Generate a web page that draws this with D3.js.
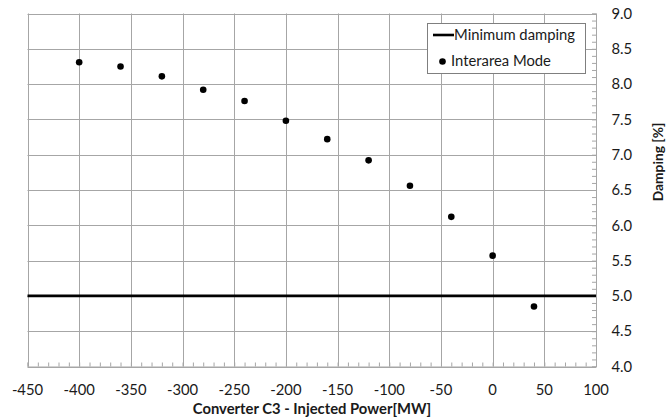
<!DOCTYPE html>
<html>
<head>
<meta charset="utf-8">
<script src="https://cdn.jsdelivr.net/npm/d3@7"></script>
<style>
  html, body { margin: 0; padding: 0; background: #fff; }
  svg { display: block; font-family: Lato, "Open Sans", sans-serif; }
</style>
</head>
<body>
<svg id="chart" width="670" height="419"></svg>
<script>
// Injected power of converter C3 (MW) and resulting damping of the interarea mode (%)
const injectedPower = [-400, -360, -320, -280, -240, -200, -160, -120, -80, -40, 0, 40];
const interareaDamping = [8.31, 8.25, 8.11, 7.92, 7.76, 7.48, 7.22, 6.92, 6.56, 6.12, 5.57, 4.85];
const minimumDamping = 5.0;

const xTickValues = [-450, -400, -350, -300, -250, -200, -150, -100, -50, 0, 50, 100];
const yTickValues = [4.0, 4.5, 5.0, 5.5, 6.0, 6.5, 7.0, 7.5, 8.0, 8.5, 9.0];

const svg = d3.select("#chart");
const plot = { left: 27.5, right: 596, top: 13.5, bottom: 366.5 };
const fontSize = 14.8;
const textColor = "#1a1a1a";

const x = d3.scaleLinear().domain([-450, 100]).range([plot.left, plot.right]);
const y = d3.scaleLinear().domain([4, 9]).range([plot.bottom, plot.top]);

const gridColor = "#a6a6a6";

// Grid lines
svg.append("g").selectAll("line").data(xTickValues).join("line")
  .attr("x1", d => Math.round(x(d)) + 0.5).attr("x2", d => Math.round(x(d)) + 0.5)
  .attr("y1", plot.top).attr("y2", plot.bottom)
  .attr("stroke", gridColor).attr("stroke-width", 1);

svg.append("g").selectAll("line").data(yTickValues).join("line")
  .attr("x1", plot.left).attr("x2", plot.right)
  .attr("y1", d => Math.round(y(d)) + 0.5).attr("y2", d => Math.round(y(d)) + 0.5)
  .attr("stroke", gridColor).attr("stroke-width", 1);

// Bottom axis: minor ticks every 10 MW pointing inward, labels at the majors
const xAxis = d3.axisBottom(x).tickValues(d3.range(-450, 101, 10)).tickSize(-4).tickFormat("");
const gx = svg.append("g").attr("transform", `translate(0,${plot.bottom})`).call(xAxis);
gx.select(".domain").attr("stroke", gridColor);
gx.selectAll(".tick line").attr("stroke", gridColor);

svg.append("g").selectAll("text").data(xTickValues).join("text")
  .attr("x", d => x(d)).attr("y", plot.bottom + 28.5)
  .attr("text-anchor", "middle").attr("font-size", fontSize).attr("fill", textColor)
  .text(d => d);

// Right axis: minor ticks every 0.1 pointing inward
const yAxis = d3.axisRight(y).tickValues(d3.range(40, 91, 1).map(v => v / 10)).tickSize(-4).tickFormat("");
const gy = svg.append("g").attr("transform", `translate(${plot.right},0)`).call(yAxis);
gy.select(".domain").attr("stroke", gridColor);
gy.selectAll(".tick line").attr("stroke", gridColor);

svg.append("g").selectAll("text").data(yTickValues).join("text")
  .attr("x", plot.right + 15.5).attr("y", d => y(d) + 5.2)
  .attr("text-anchor", "start").attr("font-size", fontSize).attr("fill", textColor)
  .text(d => d3.format(".1f")(d));

// Axis titles
svg.append("text")
  .attr("x", 312).attr("y", 414)
  .attr("text-anchor", "middle").attr("font-size", fontSize).attr("font-weight", "bold").attr("fill", textColor)
  .text("Converter C3 - Injected Power[MW]");

svg.append("text")
  .attr("transform", "translate(663,162) rotate(-90)")
  .attr("text-anchor", "middle").attr("font-size", 13.8).attr("font-weight", "bold").attr("fill", textColor)
  .text("Damping [%]");

// Minimum damping threshold
svg.append("line")
  .attr("x1", plot.left).attr("x2", plot.right)
  .attr("y1", y(minimumDamping)).attr("y2", y(minimumDamping))
  .attr("stroke", "#000").attr("stroke-width", 2.6);

// Interarea mode damping points
svg.append("g").selectAll("circle").data(injectedPower.map((p, i) => [p, interareaDamping[i]])).join("circle")
  .attr("cx", d => x(d[0])).attr("cy", d => y(d[1])).attr("r", 3.3).attr("fill", "#000");

// Legend
const legend = svg.append("g");
legend.append("rect")
  .attr("x", 427.5).attr("y", 23.5).attr("width", 158).attr("height", 50)
  .attr("fill", "#fff").attr("stroke", "#7f7f7f").attr("stroke-width", 1);
legend.append("line")
  .attr("x1", 433).attr("x2", 454).attr("y1", 35).attr("y2", 35)
  .attr("stroke", "#000").attr("stroke-width", 2.6);
legend.append("text")
  .attr("x", 454).attr("y", 40).attr("font-size", fontSize).attr("fill", textColor)
  .text("Minimum damping");
legend.append("circle").attr("cx", 442.5).attr("cy", 61.5).attr("r", 3.3).attr("fill", "#000");
legend.append("text")
  .attr("x", 451).attr("y", 66).attr("font-size", fontSize).attr("fill", textColor)
  .text("Interarea Mode");
</script>
</body>
</html>
